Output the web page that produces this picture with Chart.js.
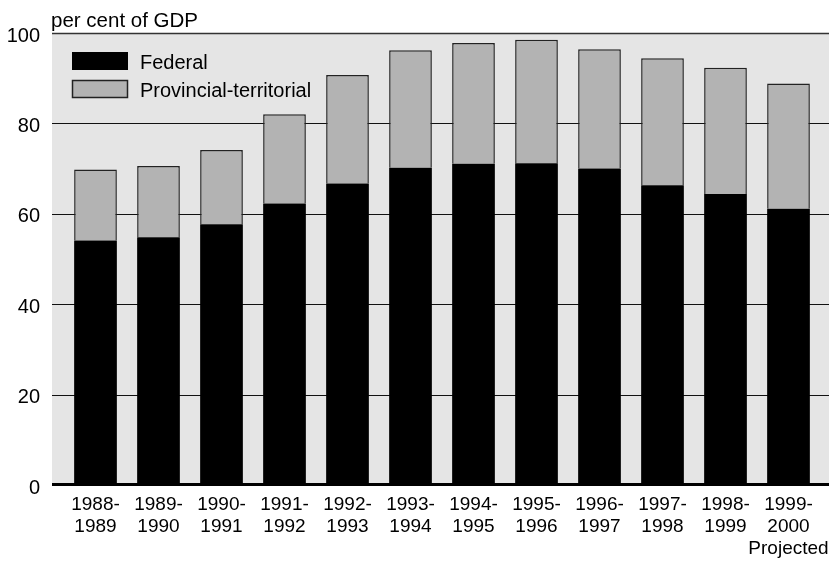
<!DOCTYPE html>
<html>
<head>
<meta charset="utf-8">
<script src="https://cdn.jsdelivr.net/npm/chart.js@4/dist/chart.umd.min.js"></script>
<style>
  body { margin: 0; background: #fff; }
  #wrap { width: 829px; height: 561px; position: relative; }
</style>
</head>
<body>
<div id="wrap"><canvas id="debtChart"></canvas></div>
<script>
// chart data
const categories = [
  ['1988-', '1989'], ['1989-', '1990'], ['1990-', '1991'], ['1991-', '1992'],
  ['1992-', '1993'], ['1993-', '1994'], ['1994-', '1995'], ['1995-', '1996'],
  ['1996-', '1997'], ['1997-', '1998'], ['1998-', '1999'], ['1999-', '2000', 'Projected']
];
const federal = [54.1, 54.8, 57.7, 62.3, 66.7, 70.2, 71.1, 71.2, 70.0, 66.3, 64.4, 61.1];
const provincial = [15.7, 15.8, 16.4, 19.7, 24.0, 26.0, 26.7, 27.3, 26.4, 28.1, 27.9, 27.7];
const yTicks = [0, 20, 40, 60, 80, 100];
const yTitle = 'per cent of GDP';

const FONT = '"Liberation Sans", Arial, Helvetica, sans-serif';

// background, grid lines, zero line, legend and unit title
const decorations = {
  id: 'decorations',
  beforeDatasetsDraw(chart) {
    const { ctx, chartArea, scales } = chart;
    const x0 = chartArea.left - 12, x1 = chart.width;
    ctx.save();
    ctx.fillStyle = '#e5e5e5';
    ctx.fillRect(x0, chartArea.top, x1 - x0, chartArea.bottom - chartArea.top);
    yTicks.forEach(v => {
      if (v === 0) return;
      const y = Math.round(scales.y.getPixelForValue(v)) + 0.5;
      ctx.strokeStyle = v === 100 ? '#333' : '#111';
      ctx.lineWidth = v === 100 ? 1.5 : 1.2;
      ctx.beginPath();
      ctx.moveTo(x0, y);
      ctx.lineTo(x1, y);
      ctx.stroke();
    });
    ctx.restore();
  },
  afterDatasetsDraw(chart) {
    const { ctx, chartArea, scales } = chart;
    const y = scales.y.getPixelForValue(0) - 0.5;
    ctx.save();
    ctx.strokeStyle = '#000';
    ctx.lineWidth = 3;
    ctx.beginPath();
    ctx.moveTo(chartArea.left - 12, y);
    ctx.lineTo(chart.width, y);
    ctx.stroke();

    // unit title
    ctx.fillStyle = '#000';
    ctx.font = '20.5px ' + FONT;
    ctx.textBaseline = 'alphabetic';
    ctx.fillText(yTitle, 51, 27);

    // legend
    const ds = chart.data.datasets;
    ctx.font = '20px ' + FONT;
    ds.forEach((d, i) => {
      const top = 52 + i * 28;
      ctx.fillStyle = d.backgroundColor;
      ctx.fillRect(72, top, 56, 18);
      if (i > 0) {
        ctx.strokeStyle = '#222';
        ctx.lineWidth = 1.5;
        ctx.strokeRect(72.5, top + 0.5, 55, 17);
      }
      ctx.fillStyle = '#000';
      ctx.fillText(d.label, 140, top + 16.5);
    });
    ctx.restore();
  }
};

const ctx = document.getElementById('debtChart').getContext('2d');
new Chart(ctx, {
  type: 'bar',
  data: {
    labels: categories,
    datasets: [
      {
        label: 'Federal',
        data: federal,
        backgroundColor: '#000000',
        borderWidth: 0
      },
      {
        label: 'Provincial-territorial',
        data: provincial,
        backgroundColor: '#b3b3b3',
        borderColor: '#222222',
        borderWidth: 1.5,
        borderSkipped: 'bottom'
      }
    ]
  },
  options: {
    responsive: true,
    maintainAspectRatio: false,
    animation: false,
    layout: { padding: { top: 33, right: 9, left: 0, bottom: 0 } },
    plugins: {
      legend: { display: false },
      tooltip: { enabled: false }
    },
    datasets: {
      bar: { categoryPercentage: 1, barPercentage: 0.678 }
    },
    scales: {
      x: {
        stacked: true,
        grid: { display: false, drawTicks: false },
        border: { display: false },
        ticks: {
          color: '#000',
          font: { family: FONT, size: 19, lineHeight: 1.15 },
          padding: 9,
          maxRotation: 0,
          autoSkip: false
        },
        afterFit(scale) {
          scale.height = 76;
          scale.paddingLeft = 0;
          scale.paddingRight = 0;
        }
      },
      y: {
        stacked: true,
        min: 0,
        max: 100,
        grid: { display: false, drawTicks: false },
        border: { display: false },
        ticks: {
          stepSize: 20,
          color: '#000',
          font: { family: FONT, size: 20 },
          padding: 24,
          labelOffset: 3
        },
        afterFit(scale) {
          scale.width = 64;
          scale.paddingTop = 0;
          scale.paddingBottom = 0;
        }
      }
    }
  },
  plugins: [decorations]
});
</script>
</body>
</html>
